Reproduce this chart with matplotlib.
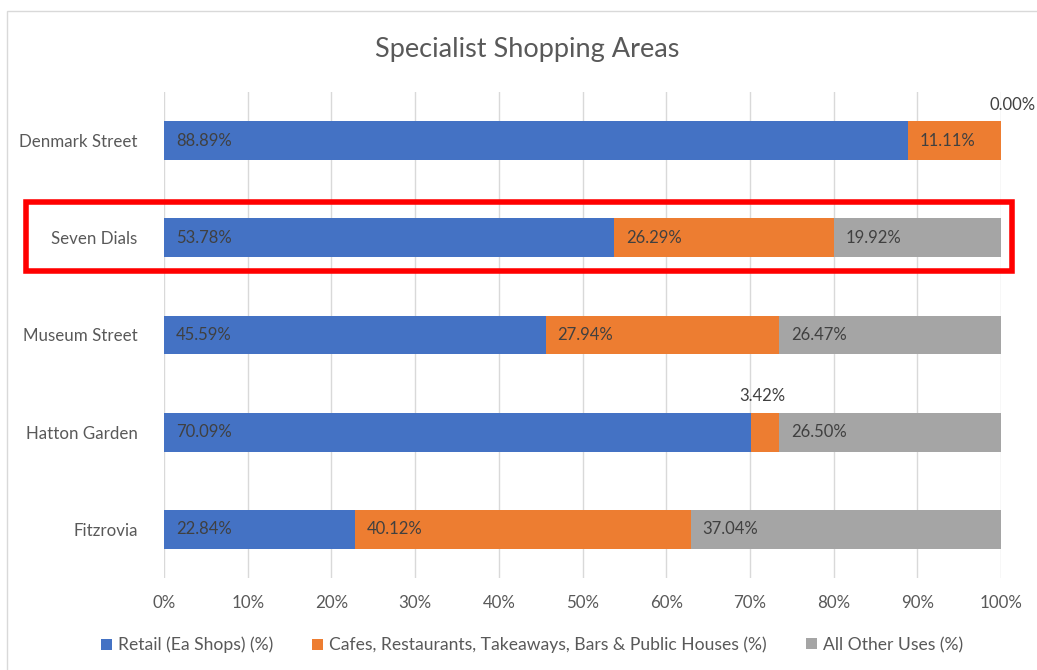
import numpy as np
import matplotlib
matplotlib.use("Agg")
import matplotlib.pyplot as plt
from matplotlib.patches import Rectangle

plt.rcParams['font.family'] = ['Lato', 'DejaVu Sans']

areas = ["Denmark Street", "Seven Dials", "Museum Street", "Hatton Garden", "Fitzrovia"]
retail = [88.89, 53.78, 45.59, 70.09, 22.84]
cafes = [11.11, 26.29, 27.94, 3.42, 40.12]
other = [0.00, 19.92, 26.47, 26.50, 37.04]
series_names = ["Retail (Ea Shops) (%)",
                "Cafes, Restaurants, Takeaways, Bars & Public Houses (%)",
                "All Other Uses (%)"]
colors = ["#4472C4", "#ED7D31", "#A5A5A5"]
xticks = np.arange(0, 101, 10)

txt = "#595959"
W, H = 1037, 670

fig = plt.figure(figsize=(10.37, 6.70), dpi=100)
ax = fig.add_axes([164/W, 92/H, (1001-164)/W, (578-92)/H])

y = np.arange(len(areas))
left = np.zeros(len(areas))
bars = []
for vals, name, c in zip([retail, cafes, other], series_names, colors):
    vals = np.array(vals)
    b = ax.barh(y, vals, left=left, height=0.4, color=c, label=name, zorder=3)
    bars.append(b)
    for i, (l, v) in enumerate(zip(left, vals)):
        if v < 5:
            continue
        ax.annotate("%.2f%%" % v, (l, y[i]), xytext=(8.5, 0), textcoords="offset points",
                    va="center", ha="left", fontsize=12, color="#404040", zorder=4)
    left = left + vals

# labels moved off the thin segments
ax.annotate("%.2f%%" % cafes[3], (retail[3] + cafes[3] / 2, y[3] - 0.2),
            xytext=(-2, 6), textcoords="offset points", ha="center", va="bottom",
            fontsize=12, color="#404040", annotation_clip=False)
ax.annotate("%.2f%%" % other[0], (100, y[0] - 0.2),
            xytext=(-8, 6), textcoords="offset points", ha="left", va="bottom",
            fontsize=12, color="#404040", annotation_clip=False)

ax.set_ylim(len(areas) - 0.5, -0.5)
ax.set_xlim(0, 100)
ax.set_xticks(xticks)
ax.set_xticklabels(["%d%%" % t for t in xticks])
ax.set_yticks(y)
ax.set_yticklabels(areas)
ax.tick_params(axis="both", length=0, labelsize=12.2, colors=txt)
ax.tick_params(axis="y", pad=19)
ax.tick_params(axis="x", pad=12)
ax.grid(axis="x", color="#D9D9D9", lw=1, zorder=0)
for s in ax.spines.values():
    s.set_visible(False)

fig.text(527/W, 1 - 57/H, "Specialist Shopping Areas", ha="center", va="baseline",
         fontsize=19.5, color=txt)

# legend: one entry per box, pinned where Excel put them
for b, name, xpos in zip(bars, series_names, [101, 312, 806]):
    leg = fig.legend([b], [name], loc="center left", bbox_to_anchor=(xpos/W, 1 - 645/H),
                     frameon=False, fontsize=12.6, handlelength=0.6, handleheight=0.6,
                     handletextpad=0.35, borderpad=0, borderaxespad=0)
    for t in leg.get_texts():
        t.set_color(txt)

# chart border
fig.patches.append(Rectangle((7/W, -0.1), 1.1, 1.1 - 11/H, transform=fig.transFigure,
                             fill=False, ec="#D9D9D9", lw=1))
# highlight box around Seven Dials
fig.patches.append(Rectangle((26/W, 1 - 270.5/H), (1011.5-26)/W, (270.5-202)/H,
                             transform=fig.transFigure, fill=False, ec="#FF0000", lw=4,
                             zorder=10))

fig.savefig("out.png", dpi=100)
